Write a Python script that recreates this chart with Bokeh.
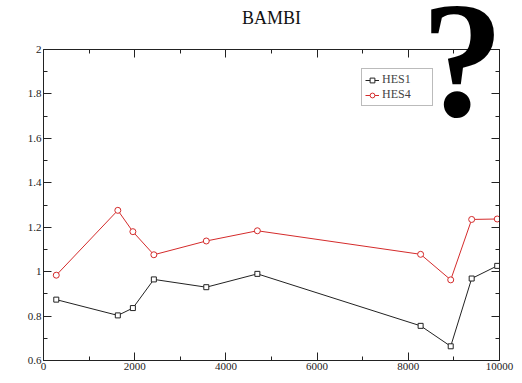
from bokeh.plotting import figure
from bokeh.models import Range1d, LinearAxis, SingleIntervalTicker, CustomJSTickFormatter, Label, Legend, LegendItem
from bokeh.embed import file_html
from bokeh.resources import INLINE

title_text = "BAMBI"
x_vals = [280, 1630, 1960, 2420, 3570, 4690, 8270, 8930, 9390, 9950]
hes1 = [0.874, 0.803, 0.836, 0.965, 0.930, 0.990, 0.756, 0.664, 0.969, 1.026]
hes4 = [0.984, 1.276, 1.180, 1.076, 1.138, 1.184, 1.078, 0.963, 1.235, 1.237]

SERIF = "Liberation Serif"
RED = "#d42b2b"
DARK = "#222222"

Y0, Y1 = 0.6, 2.0
TOP_EXTRA = 49 / (311 / 1.4)   # room above the axes box for title and mark

p = figure(width=516, height=376, output_backend="svg", toolbar_location=None,
           title=None,
           x_range=Range1d(0, 10000), y_range=Range1d(Y0, Y1 + TOP_EXTRA),
           min_border_left=43, min_border_right=17, min_border_top=0, min_border_bottom=16,
           x_axis_location=None, y_axis_location=None)
p.grid.visible = False
p.outline_line_color = None
p.background_fill_color = "white"
p.border_fill_color = "white"

yfmt = CustomJSTickFormatter(code="return String(Math.round(tick*10)/10)")
blank = CustomJSTickFormatter(code="return ''")

def make_axis(kind, labels):
    if kind == "x":
        ax = LinearAxis(ticker=SingleIntervalTicker(interval=2000, num_minor_ticks=2))
    else:
        ax = LinearAxis(ticker=SingleIntervalTicker(interval=0.2, num_minor_ticks=2), formatter=yfmt,
                        bounds=(Y0, Y1))
    ax.axis_line_color = DARK
    ax.major_tick_line_color = DARK
    ax.minor_tick_line_color = DARK
    ax.major_tick_in = 8
    ax.major_tick_out = 0
    ax.minor_tick_in = 4
    ax.minor_tick_out = 0
    ax.major_label_text_font = SERIF
    ax.major_label_text_font_size = "11px"
    ax.major_label_text_color = "#222222"
    ax.major_label_standoff = 2
    if not labels:
        ax.formatter = blank
        ax.major_label_standoff = 0
    return ax

p.add_layout(make_axis("x", True), "below")
p.add_layout(make_axis("y", True), "left")
top_axis = make_axis("x", False)
top_axis.fixed_location = Y1
p.add_layout(top_axis, "above")
p.add_layout(make_axis("y", False), "right")

r1 = p.line(x_vals, hes1, line_color=DARK, line_width=1)
m1 = p.scatter(x_vals, hes1, marker="square", size=5, line_color=DARK, fill_color="white", line_width=1)
r4 = p.line(x_vals, hes4, line_color=RED, line_width=1)
m4 = p.scatter(x_vals, hes4, marker="circle", size=6, line_color=RED, fill_color="white", line_width=1)

legend = Legend(items=[LegendItem(label="HES1", renderers=[r1, m1]),
                       LegendItem(label="HES4", renderers=[r4, m4])],
                location=(318, 254), margin=0, padding=3, spacing=0,
                glyph_width=14, glyph_height=12, label_height=12, label_width=47,
                label_standoff=3, label_text_line_height=0.9,
                label_text_font=SERIF, label_text_font_size="12px",
                border_line_color="#777777", border_line_width=1,
                background_fill_color="white", background_fill_alpha=1.0)
p.add_layout(legend, "center")

t = Label(x=5000, y=2.144, text=title_text, text_font=SERIF, text_font_size="18px",
          text_align="center", text_baseline="middle", text_color="#111111")
p.add_layout(t)

q = Label(x=9190, y=1.95, text="?", text_font=SERIF, text_font_size="165px",
          text_font_style="bold", text_align="center", text_baseline="alphabetic",
          text_color="black", level="overlay")
p.add_layout(q)

open("out.html", "w").write(file_html(p, INLINE))
